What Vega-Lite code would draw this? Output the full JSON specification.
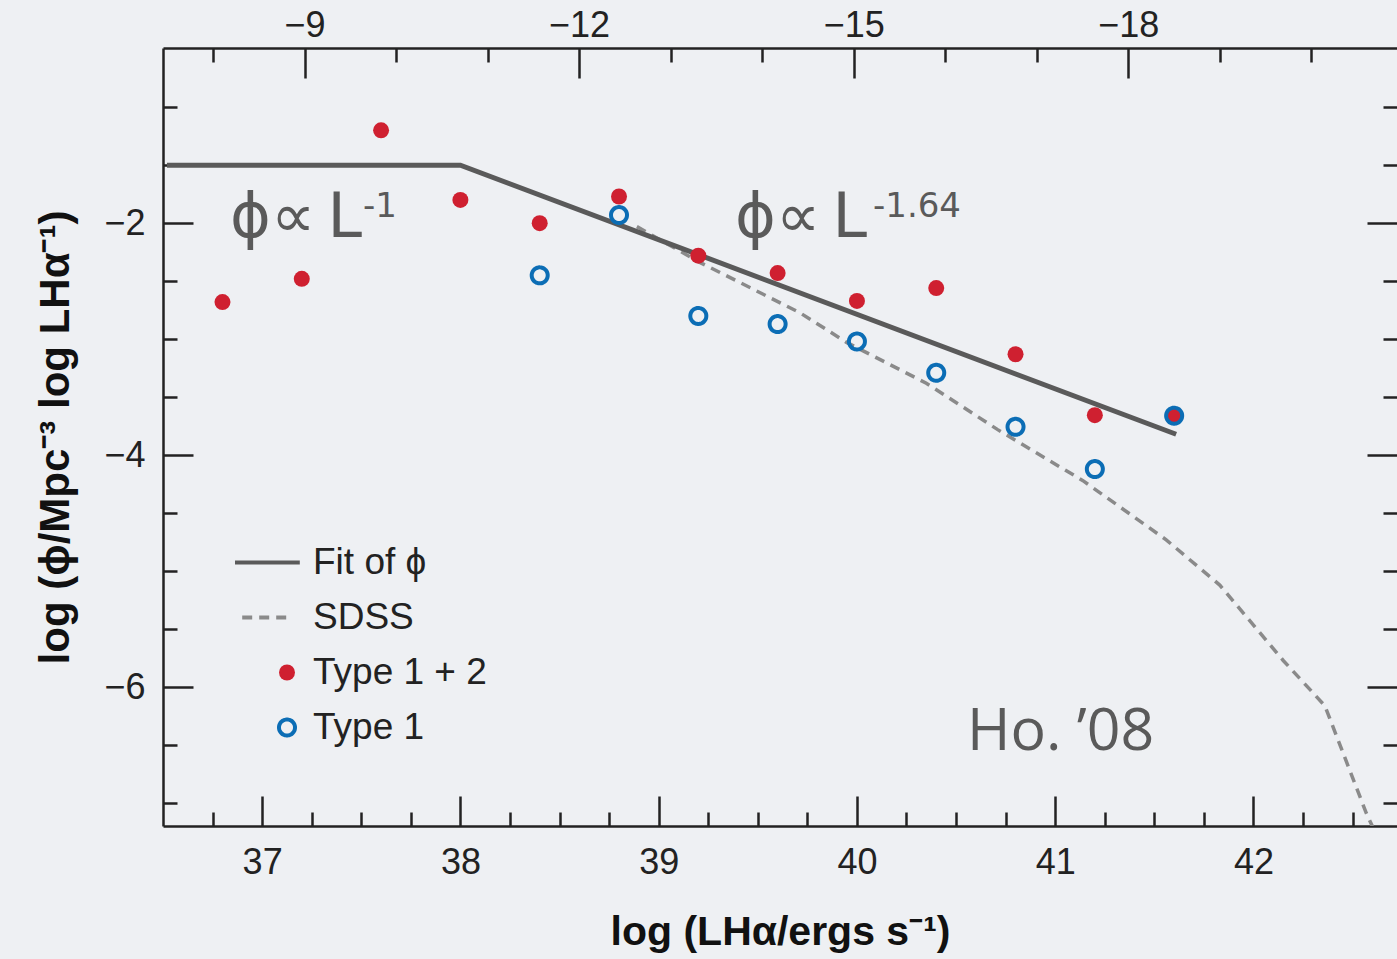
{
  "$schema": "https://vega.github.io/schema/vega-lite/v6.json",
  "width": 1234,
  "height": 778,
  "autosize": "none",
  "padding": {"left": 163, "top": 48, "right": 0, "bottom": 133},
  "background": "#eef0f3",
  "config": {"view": {"stroke": null}},
  "datasets": {
    "sdss": [
      {"logL": 38.89, "logPhi": -2.03},
      {"logL": 39.21, "logPhi": -2.34},
      {"logL": 39.71, "logPhi": -2.77},
      {"logL": 39.95, "logPhi": -3.03},
      {"logL": 40.35, "logPhi": -3.38},
      {"logL": 40.71, "logPhi": -3.78},
      {"logL": 41.14, "logPhi": -4.22},
      {"logL": 41.56, "logPhi": -4.73},
      {"logL": 41.83, "logPhi": -5.12},
      {"logL": 42.15, "logPhi": -5.77},
      {"logL": 42.36, "logPhi": -6.16},
      {"logL": 42.57, "logPhi": -7.09},
      {"logL": 42.6, "logPhi": -7.2}
    ],
    "fit": [
      {"logL": 36.52, "logPhi": -1.5},
      {"logL": 38.0, "logPhi": -1.5},
      {"logL": 41.61, "logPhi": -3.82}
    ],
    "points": [
      {"logL": 36.8, "logPhi": -2.68, "series": "Type 1 + 2"},
      {"logL": 37.2, "logPhi": -2.48, "series": "Type 1 + 2"},
      {"logL": 37.6, "logPhi": -1.2, "series": "Type 1 + 2"},
      {"logL": 38.0, "logPhi": -1.8, "series": "Type 1 + 2"},
      {"logL": 38.4, "logPhi": -2.0, "series": "Type 1 + 2"},
      {"logL": 38.8, "logPhi": -1.77, "series": "Type 1 + 2"},
      {"logL": 39.2, "logPhi": -2.28, "series": "Type 1 + 2"},
      {"logL": 39.6, "logPhi": -2.43, "series": "Type 1 + 2"},
      {"logL": 40.0, "logPhi": -2.67, "series": "Type 1 + 2"},
      {"logL": 40.4, "logPhi": -2.56, "series": "Type 1 + 2"},
      {"logL": 40.8, "logPhi": -3.13, "series": "Type 1 + 2"},
      {"logL": 41.2, "logPhi": -3.655, "series": "Type 1 + 2"},
      {"logL": 41.6, "logPhi": -3.66, "series": "Type 1 + 2"},
      {"logL": 38.4, "logPhi": -2.45, "series": "Type 1"},
      {"logL": 38.8, "logPhi": -1.93, "series": "Type 1"},
      {"logL": 39.2, "logPhi": -2.8, "series": "Type 1"},
      {"logL": 39.6, "logPhi": -2.87, "series": "Type 1"},
      {"logL": 40.0, "logPhi": -3.02, "series": "Type 1"},
      {"logL": 40.4, "logPhi": -3.29, "series": "Type 1"},
      {"logL": 40.8, "logPhi": -3.756, "series": "Type 1"},
      {"logL": 41.2, "logPhi": -4.12, "series": "Type 1"},
      {"logL": 41.6, "logPhi": -3.66, "series": "Type 1"}
    ]
  },
  "resolve": {"scale": {"x": "independent"}, "axis": {"x": "independent", "y": "independent"}},
  "layer": [
    {
      "data": {"name": "sdss"},
      "mark": {"type": "line", "color": "#8a8a8a", "strokeWidth": 3.5, "strokeDash": [10, 7], "clip": true},
      "encoding": {
        "x": {
          "field": "logL", "type": "quantitative",
          "scale": {"domain": [36.5, 42.724], "nice": false, "zero": false},
          "axis": {
            "orient": "bottom",
            "values": [36.75, 37, 37.25, 37.5, 37.75, 38, 38.25, 38.5, 38.75, 39, 39.25, 39.5, 39.75, 40, 40.25, 40.5, 40.75, 41, 41.25, 41.5, 41.75, 42, 42.25, 42.5],
            "labelExpr": "datum.value % 1 === 0 ? format(datum.value, 'd') : ''",
            "tickSize": -30, "tickWidth": 2.5, "tickColor": "#222222",
            "tickDash": {"condition": {"test": "datum.value % 1 !== 0", "value": [14, 60]}, "value": [60, 0]},
            "domainColor": "#222222", "domainWidth": 2.5,
            "labelFont": "Liberation Sans", "labelFontSize": 36, "labelColor": "#222222",
            "labelPadding": 77, "labelBaseline": "alphabetic", "labelFlush": false, "labelOverlap": false,
            "grid": false,
            "title": "log (LHα/ergs s⁻¹)", "titleFont": "Liberation Sans", "titleFontSize": 41,
            "titleFontWeight": "bold", "titleColor": "#111111", "titlePadding": 32
          }
        },
        "y": {
          "field": "logPhi", "type": "quantitative",
          "scale": {"domain": [-7.197, -0.49], "nice": false, "zero": false},
          "axis": {
            "orient": "left",
            "values": [-7, -6.5, -6, -5.5, -5, -4.5, -4, -3.5, -3, -2.5, -2, -1.5, -1],
            "labelExpr": "datum.value % 2 === 0 ? format(datum.value, 'd') : ''",
            "tickSize": -30, "tickWidth": 2.5, "tickColor": "#222222",
            "tickDash": {"condition": {"test": "datum.value % 2 !== 0", "value": [14, 60]}, "value": [60, 0]},
            "domainColor": "#222222", "domainWidth": 2.5,
            "labelFont": "Liberation Sans", "labelFontSize": 36, "labelColor": "#222222",
            "labelPadding": 48, "labelFlush": false, "labelOverlap": false,
            "grid": false,
            "title": "log (ϕ/Mpc⁻³ log LHα⁻¹)", "titleFont": "Liberation Sans", "titleFontSize": 42,
            "titleFontWeight": "bold", "titleColor": "#111111", "titlePadding": 26
          }
        }
      }
    },
    {
      "data": {"name": "fit"},
      "mark": {"type": "line", "color": "#5a5a5a", "strokeWidth": 5},
      "encoding": {
        "x": {"field": "logL", "type": "quantitative", "scale": {"domain": [36.5, 42.724], "nice": false, "zero": false}, "axis": null},
        "y": {"field": "logPhi", "type": "quantitative", "scale": {"domain": [-7.197, -0.49], "nice": false, "zero": false}, "axis": null}
      }
    },
    {
      "data": {"name": "points"},
      "mark": {"type": "point", "size": 256, "strokeWidth": 4, "opacity": 1},
      "encoding": {
        "x": {"field": "logL", "type": "quantitative", "scale": {"domain": [36.5, 42.724], "nice": false, "zero": false}, "axis": null},
        "y": {"field": "logPhi", "type": "quantitative", "scale": {"domain": [-7.197, -0.49], "nice": false, "zero": false}, "axis": null},
        "shape": {
          "field": "series", "type": "nominal",
          "scale": {"domain": ["Fit of ϕ", "SDSS", "Type 1 + 2", "Type 1"], "range": ["M-6.5,0H1.6", "M-5.6,0H0.6", "circle", "circle"]},
          "legend": {
            "orient": "none", "legendX": 105.5, "legendY": 496, "title": null, "padding": 0,
            "symbolSize": 256, "symbolStrokeWidth": 4,
            "labelOffset": 7.5, "rowPadding": 17,
            "labelFont": "Liberation Sans", "labelFontSize": 37, "labelColor": "#222222", "labelLimit": 0
          }
        },
        "fill": {
          "field": "series", "type": "nominal",
          "scale": {"domain": ["Fit of ϕ", "SDSS", "Type 1 + 2", "Type 1"], "range": ["transparent", "transparent", "#cf2030", "transparent"]},
          "legend": {
            "orient": "none", "legendX": 105.5, "legendY": 496, "title": null, "padding": 0,
            "symbolSize": 256, "symbolStrokeWidth": 4,
            "labelOffset": 7.5, "rowPadding": 17,
            "labelFont": "Liberation Sans", "labelFontSize": 37, "labelColor": "#222222", "labelLimit": 0
          }
        },
        "stroke": {
          "field": "series", "type": "nominal",
          "scale": {"domain": ["Fit of ϕ", "SDSS", "Type 1 + 2", "Type 1"], "range": ["#5a5a5a", "#8a8a8a", "transparent", "#0b6db5"]},
          "legend": {
            "orient": "none", "legendX": 105.5, "legendY": 496, "title": null, "padding": 0,
            "symbolSize": 256, "symbolStrokeWidth": 4,
            "labelOffset": 7.5, "rowPadding": 17,
            "labelFont": "Liberation Sans", "labelFontSize": 37, "labelColor": "#222222", "labelLimit": 0
          }
        },
        "strokeDash": {
          "field": "series", "type": "nominal",
          "scale": {"domain": ["Fit of ϕ", "SDSS", "Type 1 + 2", "Type 1"], "range": [[1, 0], [10, 7], [1, 0], [1, 0]]},
          "legend": {
            "orient": "none", "legendX": 105.5, "legendY": 496, "title": null, "padding": 0,
            "symbolSize": 256, "symbolStrokeWidth": 4,
            "labelOffset": 7.5, "rowPadding": 17,
            "labelFont": "Liberation Sans", "labelFontSize": 37, "labelColor": "#222222", "labelLimit": 0
          }
        }
      }
    },
    {
      "data": {"values": [{}]},
      "mark": {"type": "text", "text": "ϕ∝\u2009L", "font": "DejaVu Sans", "fontSize": 62, "color": "#5a5a5a", "align": "left", "baseline": "alphabetic"},
      "encoding": {
        "x": {"datum": 36.838, "type": "quantitative", "scale": {"domain": [36.5, 42.724], "nice": false, "zero": false}, "axis": null},
        "y": {"datum": -2.121, "type": "quantitative", "scale": {"domain": [-7.197, -0.49], "nice": false, "zero": false}, "axis": null}
      }
    },
    {
      "data": {"values": [{}]},
      "mark": {"type": "text", "text": "-1", "font": "DejaVu Sans", "fontSize": 34, "color": "#5a5a5a", "align": "left", "baseline": "alphabetic"},
      "encoding": {
        "x": {"datum": 37.509, "type": "quantitative", "scale": {"domain": [36.5, 42.724], "nice": false, "zero": false}, "axis": null},
        "y": {"datum": -1.948, "type": "quantitative", "scale": {"domain": [-7.197, -0.49], "nice": false, "zero": false}, "axis": null}
      }
    },
    {
      "data": {"values": [{}]},
      "mark": {"type": "text", "text": "ϕ∝\u2009L", "font": "DejaVu Sans", "fontSize": 62, "color": "#5a5a5a", "align": "left", "baseline": "alphabetic"},
      "encoding": {
        "x": {"datum": 39.385, "type": "quantitative", "scale": {"domain": [36.5, 42.724], "nice": false, "zero": false}, "axis": null},
        "y": {"datum": -2.121, "type": "quantitative", "scale": {"domain": [-7.197, -0.49], "nice": false, "zero": false}, "axis": null}
      }
    },
    {
      "data": {"values": [{}]},
      "mark": {"type": "text", "text": "-1.64", "font": "DejaVu Sans", "fontSize": 34, "color": "#5a5a5a", "align": "left", "baseline": "alphabetic"},
      "encoding": {
        "x": {"datum": 40.081, "type": "quantitative", "scale": {"domain": [36.5, 42.724], "nice": false, "zero": false}, "axis": null},
        "y": {"datum": -1.948, "type": "quantitative", "scale": {"domain": [-7.197, -0.49], "nice": false, "zero": false}, "axis": null}
      }
    },
    {
      "data": {"values": [{}]},
      "mark": {"type": "text", "text": "Ho. ’08", "font": "Open Sans", "fontSize": 59, "color": "#5a5a5a", "align": "left", "baseline": "alphabetic"},
      "encoding": {
        "x": {
          "datum": -16.238, "type": "quantitative",
          "scale": {"domain": [-7.454, -20.936], "nice": false, "zero": false},
          "axis": {
            "orient": "top",
            "values": [-8, -9, -10, -11, -12, -13, -14, -15, -16, -17, -18, -19, -20],
            "labelExpr": "datum.value % 3 === 0 ? format(datum.value, 'd') : ''",
            "tickSize": -30, "tickWidth": 2.5, "tickColor": "#222222",
            "tickDash": {"condition": {"test": "datum.value % 3 !== 0", "value": [14, 60]}, "value": [60, 0]},
            "domainColor": "#222222", "domainWidth": 2.5,
            "labelFont": "Liberation Sans", "labelFontSize": 36, "labelColor": "#222222",
            "labelPadding": 42, "labelBaseline": "alphabetic", "labelFlush": false, "labelOverlap": false,
            "grid": false, "title": null
          }
        },
        "y": {
          "datum": -6.543, "type": "quantitative",
          "scale": {"domain": [-7.197, -0.49], "nice": false, "zero": false},
          "axis": {
            "orient": "right",
            "values": [-7, -6.5, -6, -5.5, -5, -4.5, -4, -3.5, -3, -2.5, -2, -1.5, -1],
            "labels": false, "domain": false,
            "tickSize": -30, "tickWidth": 2.5, "tickColor": "#222222",
            "tickDash": {"condition": {"test": "datum.value % 2 !== 0", "value": [14, 60]}, "value": [60, 0]},
            "grid": false, "title": null
          }
        }
      }
    }
  ]
}
